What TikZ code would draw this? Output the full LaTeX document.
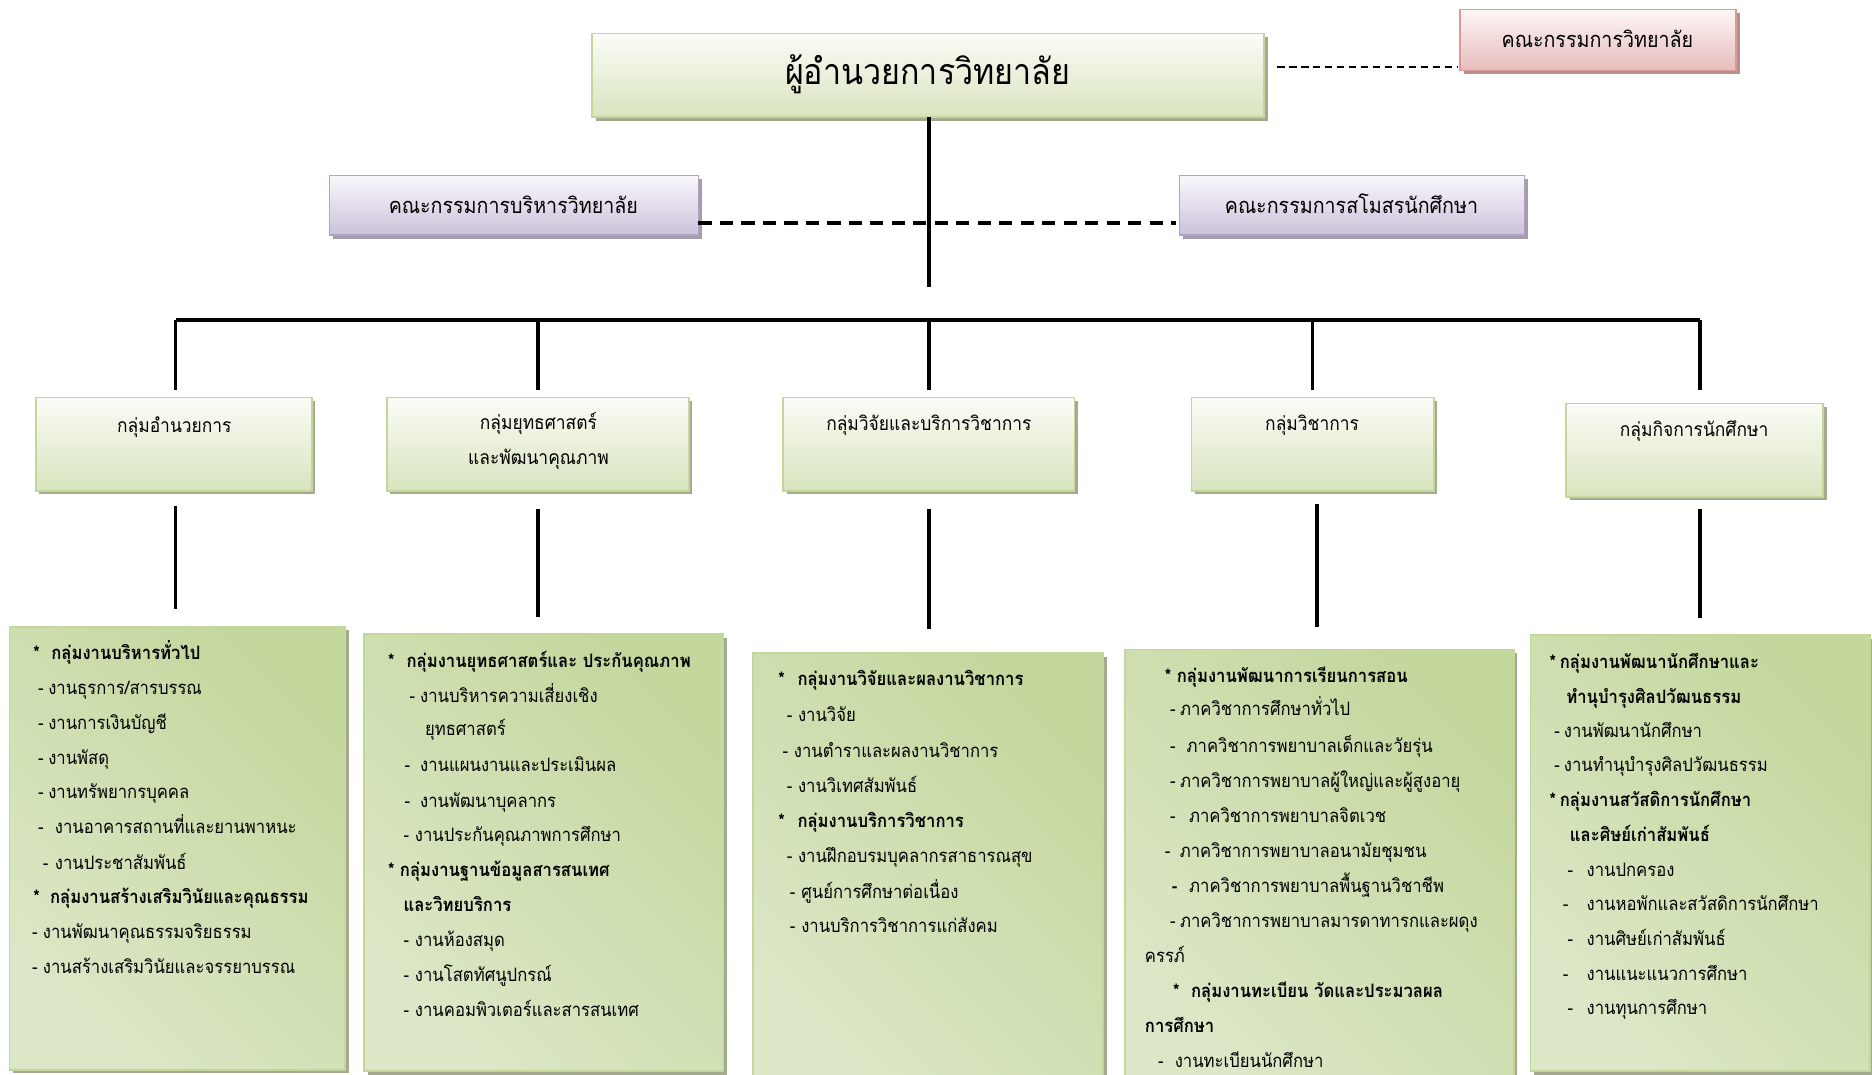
\documentclass[tikz,border=0pt]{standalone}
\usepackage{fontspec}
\newfontfamily\thai[Script=Thai,FakeStretch=0.9]{Loma}
\usetikzlibrary{shadows}
\definecolor{gborder}{HTML}{C3D69B}
\definecolor{gtop}{HTML}{FBFCF7}
\definecolor{gbot}{HTML}{D8E4BE}
\definecolor{gshadow}{HTML}{A3AA8E}
\definecolor{gdark}{HTML}{C4D79D}
\definecolor{glight}{HTML}{F1F5E9}
\definecolor{gmid}{HTML}{DCE7C7}
\definecolor{pborder}{HTML}{B3A2C7}
\definecolor{ptop}{HTML}{F9F7FB}
\definecolor{pbot}{HTML}{CCC1DA}
\definecolor{pshadow}{HTML}{A49DAC}
\definecolor{rborder}{HTML}{DA9896}
\definecolor{rtop}{HTML}{FDF6F6}
\definecolor{rbot}{HTML}{E7BDBC}
\definecolor{rshadow}{HTML}{B49191}
\tikzset{
  boxbase/.style={rectangle, inner sep=0pt, outer sep=0pt, anchor=north west, line width=1.5pt},
  headbox/.style={boxbase, draw=gborder, top color=gtop, bottom color=gbot,
    drop shadow={shadow xshift=3pt, shadow yshift=-3pt, fill=gshadow, opacity=1}},
  listbox/.style={boxbase, draw=gborder, left color=gmid, middle color=glight, right color=gdark, shading angle=135,
    drop shadow={shadow xshift=3pt, shadow yshift=-3pt, fill=gshadow, opacity=1}},
  purplebox/.style={boxbase, draw=pborder, top color=ptop, bottom color=pbot,
    drop shadow={shadow xshift=3pt, shadow yshift=-3pt, fill=pshadow, opacity=1}},
  redbox/.style={boxbase, draw=rborder, top color=rtop, bottom color=rbot,
    drop shadow={shadow xshift=3pt, shadow yshift=-3pt, fill=rshadow, opacity=1}},
  conn/.style={line width=3pt, black},
  itemtext/.style={inner sep=0pt, outer sep=0pt, anchor=base west, font=\thai\fontsize{15.5}{17}\selectfont},
  boldtext/.style={itemtext, font=\thai\fontsize{15.5}{17}\selectfont\bfseries},
  labeltext/.style={inner sep=0pt, outer sep=0pt, anchor=base, font=\thai\fontsize{18.3}{20}\selectfont},
  grouptext/.style={inner sep=0pt, outer sep=0pt, anchor=base, font=\thai\fontsize{16.2}{18}\selectfont},
  titletext/.style={inner sep=0pt, outer sep=0pt, anchor=base, font=\thai\fontsize{30}{34}\selectfont},
}
% dash item: name, x of dash, y centre, gap to text, text
\newcommand\itm[5]{\node[itemtext] (#1) at (#2,{#3+5}) {\makebox[#4pt][l]{-}#5};}
\newcommand\bitm[5]{\node[itemtext] (#1) at (#2,{#3+5}) {\makebox[#4pt][l]{\bfseries -}#5};}
\newcommand\hdi[5]{\node[boldtext] (#1) at (#2,{#3+5}) {\makebox[#4pt][l]{*}#5};}
\newcommand\cnt[4]{\node[itemtext] (#1) at (#2,{#3+5}) {#4};}
\newcommand\bcnt[4]{\node[boldtext] (#1) at (#2,{#3+5}) {#4};}
\begin{document}
\begin{tikzpicture}[x=1pt, y=-1pt]
\useasboundingbox (0,0) rectangle (1568,900);
% ---------- top level ----------
\node[headbox, minimum width=563pt, minimum height=70pt] (dir) at (496,28) {};
\node[titletext] (dirT) at (777,71) {ผู้อำนวยการวิทยาลัย};
\node[redbox, minimum width=231pt, minimum height=51pt] (coll) at (1223,8) {};
\node[labeltext] (collT) at (1338,40) {คณะกรรมการวิทยาลัย};
\node[purplebox, minimum width=309pt, minimum height=50pt] (exec) at (276,147) {};
\node[labeltext] (execT) at (430,179) {คณะกรรมการบริหารวิทยาลัย};
\node[purplebox, minimum width=289pt, minimum height=50pt] (club) at (988,147) {};
\node[labeltext] (clubT) at (1132,179) {คณะกรรมการสโมสรนักศึกษา};
% ---------- connectors top ----------
\coordinate (dirR) at (1070,56);
\coordinate (collL) at (1221,56);
\draw[line width=1.5pt, dash pattern=on 6pt off 4pt] (dirR) -- (collL);
\coordinate (hub) at (778,240);
\draw[conn] (dir.south -| hub) -- (hub);
\coordinate (execR) at (585,187);
\coordinate (clubL) at (985,187);
\draw[line width=3.2pt, dash pattern=on 11pt off 7pt] (execR) -- (clubL);
% ---------- group boxes ----------
\node[headbox, minimum width=231pt, minimum height=78pt] (g1) at (30,333) {};
\node[headbox, minimum width=253pt, minimum height=78pt] (g2) at (324,333) {};
\node[headbox, minimum width=244pt, minimum height=78pt] (g3) at (656,333) {};
\node[headbox, minimum width=203pt, minimum height=78pt] (g4) at (998,333) {};
\node[headbox, minimum width=215pt, minimum height=78pt] (g5) at (1312,338) {};
\node[grouptext] (g1T) at (146,362) {กลุ่มอำนวยการ};
\node[grouptext] (g2T) at (451,360) {กลุ่มยุทธศาสตร์};
\node[grouptext] (g2U) at (451,389) {และพัฒนาคุณภาพ};
\node[grouptext] (g3T) at (778,361) {กลุ่มวิจัยและบริการวิชาการ};
\node[grouptext] (g4T) at (1099,361) {กลุ่มวิชาการ};
\node[grouptext] (g5T) at (1419,366) {กลุ่มกิจการนักศึกษา};
% ---------- bus ----------
\coordinate (busL) at (147,268);
\coordinate (busR) at (1424,268);
\draw[conn] (busL) -- (busR);
\draw[conn, shorten >=6pt] (busL) -- (busL |- g1.north);
\draw[conn, shorten >=6pt] (g2.north |- busL) -- (g2.north);
\draw[conn, shorten >=6pt] (g3.north |- busL) -- (g3.north);
\draw[conn, shorten >=6pt] (g4.north |- busL) -- (g4.north);
\draw[conn, shorten >=11pt] (busR) -- (busR |- g5.north);
% ---------- list boxes ----------
\node[listbox, minimum width=281pt, minimum height=371pt] (b1) at (8,525) {};
\node[listbox, minimum width=301pt, minimum height=366pt] (b2) at (305,531) {};
\node[listbox, minimum width=293pt, minimum height=370pt] (b3) at (631,547) {};
\node[listbox, minimum width=326pt, minimum height=370pt] (b4) at (942,544) {};
\node[listbox, minimum width=284pt, minimum height=365pt] (b5) at (1282,532) {};
\draw[conn, shorten <=13pt, shorten >=15pt] (g1.south -| busL) -- (busL |- b1.north);
\draw[conn, shorten <=15pt, shorten >=14pt] (g2.south) -- (g2.south |- b2.north);
\draw[conn, shorten <=15pt, shorten >=20pt] (g3.south) -- (g3.south |- b3.north);
\coordinate (d4) at (1103,0);
\draw[conn, shorten <=11pt, shorten >=19pt] (g4.south -| d4) -- (d4 |- b4.north);
\draw[conn, shorten <=10pt, shorten >=14pt] (g5.south -| busR) -- (busR |- b5.north);
% ---------- list 1 ----------
\hdi{a1}{28}{547}{15}{กลุ่มงานบริหารทั่วไป}
\itm{a2}{32}{576.5}{8.5}{งานธุรการ/สารบรรณ}
\itm{a3}{32}{606}{8.5}{งานการเงินบัญชี}
\itm{a4}{32}{635}{8.5}{งานพัสดุ}
\itm{a5}{32}{664}{8.5}{งานทรัพยากรบุคคล}
\itm{a6}{32}{693}{14}{งานอาคารสถานที่และยานพาหนะ}
\itm{a7}{36}{723}{10}{งานประชาสัมพันธ์}
\hdi{a8}{28}{752}{14}{กลุ่มงานสร้างเสริมวินัยและคุณธรรม}
\itm{a9}{27}{781}{9}{งานพัฒนาคุณธรรมจริยธรรม}
\itm{a10}{27}{810}{9}{งานสร้างเสริมวินัยและจรรยาบรรณ}
% ---------- list 2 ----------
\hdi{s1}{325}{554}{15.6}{กลุ่มงานยุทธศาสตร์และ ประกันคุณภาพ}
\itm{s2}{343}{583}{9}{งานบริหารความเสี่ยงเชิง}
\cnt{s3}{356}{611}{ยุทธศาสตร์}
\itm{s4}{339}{641}{13}{งานแผนงานและประเมินผล}
\itm{s5}{339}{671}{13}{งานพัฒนาบุคลากร}
\itm{s6}{338}{700}{9.6}{งานประกันคุณภาพการศึกษา}
\hdi{s7}{325}{729}{10}{กลุ่มงานฐานข้อมูลสารสนเทศ}
\bcnt{s8}{338}{758.6}{และวิทยบริการ}
\itm{s9}{338}{788}{9.6}{งานห้องสมุด}
\itm{s10}{338}{817.5}{9.6}{งานโสตทัศนูปกรณ์}
\itm{s11}{338}{846.5}{9.6}{งานคอมพิวเตอร์และสารสนเทศ}
% ---------- list 3 ----------
\hdi{r1}{652}{569.5}{16}{กลุ่มงานวิจัยและผลงานวิชาการ}
\itm{r2}{659}{599.6}{9.5}{งานวิจัย}
\itm{r3}{655.5}{629.5}{9.5}{งานตำราและผลงานวิชาการ}
\itm{r4}{659}{659}{9.5}{งานวิเทศสัมพันธ์}
\hdi{r5}{652}{688}{16}{กลุ่มงานบริการวิชาการ}
\itm{r6}{659}{717.5}{9.5}{งานฝึกอบรมบุคลากรสาธารณสุข}
\itm{r7}{661.7}{747.6}{9.5}{ศูนย์การศึกษาต่อเนื่อง}
\itm{r8}{661.7}{776}{9.5}{งานบริการวิชาการแก่สังคม}
% ---------- list 4 ----------
\hdi{k1}{975.7}{566.7}{10}{กลุ่มงานพัฒนาการเรียนการสอน}
\itm{k2}{980}{594.6}{8.5}{ภาควิชาการศึกษาทั่วไป}
\itm{k3}{980}{625.4}{14}{ภาควิชาการพยาบาลเด็กและวัยรุ่น}
\itm{k4}{980}{654.7}{8.5}{ภาควิชาการพยาบาลผู้ใหญ่และผู้สูงอายุ}
\itm{k5}{980}{684}{16}{ภาควิชาการพยาบาลจิตเวช}
\itm{k6}{975.7}{713.3}{12.5}{ภาควิชาการพยาบาลอนามัยชุมชน}
\bitm{k7}{981.6}{742.6}{14.5}{ภาควิชาการพยาบาลพื้นฐานวิชาชีพ}
\itm{k8}{980}{772}{8.5}{ภาควิชาการพยาบาลมารดาทารกและผดุง}
\cnt{k9}{959}{801}{ครรภ์}
\hdi{k10}{982.7}{830.6}{15}{กลุ่มงานทะเบียน วัดและประมวลผล}
\bcnt{k11}{959}{860}{การศึกษา}
\itm{k12}{970}{889}{14}{งานทะเบียนนักศึกษา}
% ---------- list 5 ----------
\hdi{n1}{1298}{555}{8.5}{กลุ่มงานพัฒนานักศึกษาและ}
\bcnt{n2}{1312}{584}{ทำนุบำรุงศิลปวัฒนธรรม}
\itm{n3}{1302}{613}{8}{งานพัฒนานักศึกษา}
\itm{n4}{1302}{641.5}{8}{งานทำนุบำรุงศิลปวัฒนธรรม}
\hdi{n5}{1298}{670.5}{8.5}{กลุ่มงานสวัสดิการนักศึกษา}
\bcnt{n6}{1315}{700}{และศิษย์เก่าสัมพันธ์}
\itm{n7}{1313}{729.5}{16}{งานปกครอง}
\itm{n8}{1309}{758}{20}{งานหอพักและสวัสดิการนักศึกษา}
\itm{n9}{1313}{787}{16}{งานศิษย์เก่าสัมพันธ์}
\itm{n10}{1309}{816}{20}{งานแนะแนวการศึกษา}
\itm{n11}{1313}{845}{16}{งานทุนการศึกษา}
\end{tikzpicture}
\end{document}
